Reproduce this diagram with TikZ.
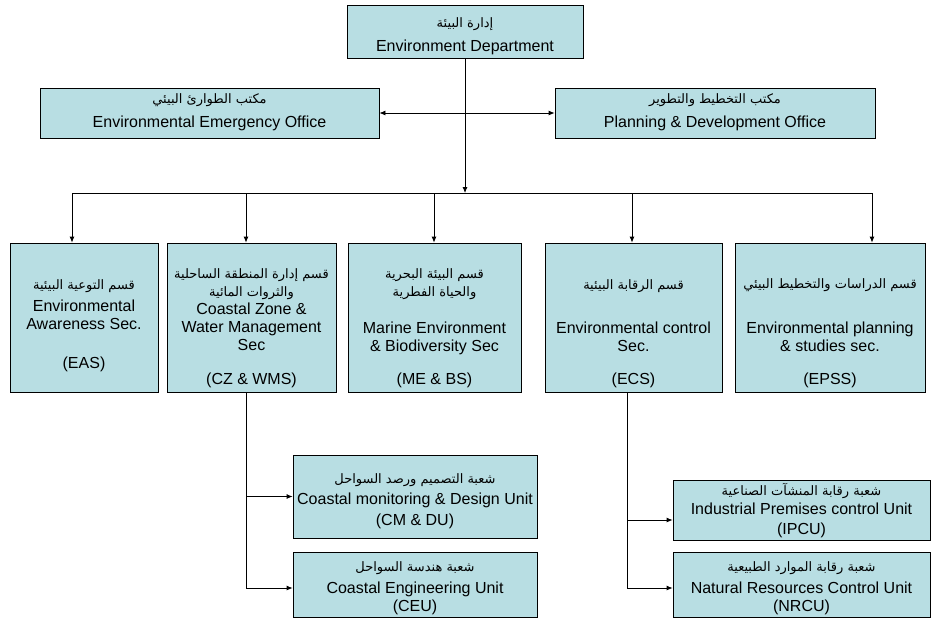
\documentclass[tikz,border=0pt]{standalone}
\usepackage{fontspec}
\setmainfont{Liberation Sans}
\newfontfamily\arabicfont[Script=Arabic]{DejaVu Sans}
\TeXXeTstate=1
\usetikzlibrary{arrows.meta}
\definecolor{boxfill}{RGB}{184,222,227}
\newcommand{\artxt}[1]{\beginR #1\endR}
\begin{document}
\begin{tikzpicture}[x=1pt,y=-1pt,
  box/.style={draw=black, line width=0.8pt, fill=boxfill, inner sep=0pt, rectangle},
  en/.style={font=\fontsize{16}{18}\selectfont, inner sep=0pt, anchor=base},
  ar/.style={font=\fontsize{13}{15}\arabicfont, inner sep=0pt, anchor=base},
  conn/.style={draw=black, line width=0.8pt},
  arr/.style={conn, -{Latex[length=6pt,width=5pt]}},
  darr/.style={conn, {Latex[length=6pt,width=5pt]}-{Latex[length=6pt,width=5pt]}}]
\fill[white] (0,0) rectangle (932,619);
\useasboundingbox (0,0) rectangle (932,619);

% boxes
\node[box, minimum width=236pt, minimum height=53pt] (env) at (465,31.5) {};
\node[box, minimum width=339pt, minimum height=50pt] (emerg) at (209.5,113) {};
\node[box, minimum width=320pt, minimum height=50pt] (plan) at (715,113) {};
\node[box, minimum width=148pt, minimum height=149pt] (eas) at (84,317.5) {};
\node[box, minimum width=169pt, minimum height=149pt] (cz) at (251.5,317.5) {};
\node[box, minimum width=173pt, minimum height=149pt] (me) at (434.5,317.5) {};
\node[box, minimum width=177pt, minimum height=149pt] (ecs) at (633.5,317.5) {};
\node[box, minimum width=190pt, minimum height=149pt] (epss) at (830,317.5) {};
\node[box, minimum width=244pt, minimum height=83pt] (cmdu) at (415,496.5) {};
\node[box, minimum width=244pt, minimum height=65pt] (ceu) at (415,584.5) {};
\node[box, minimum width=257pt, minimum height=60pt] (ipcu) at (801.5,510) {};
\node[box, minimum width=257pt, minimum height=65pt] (nrcu) at (801.5,584.5) {};

% texts
\node[ar] (envA) at (465,27) {\artxt{إدارة البيئة}};
\node[en] (envE) at (465,51) {Environment Department};

\node[ar] (emergA) at (209.5,103) {\artxt{مكتب الطوارئ البيئي}};
\node[en] (emergE) at (209.5,127) {Environmental Emergency Office};

\node[ar] (planA) at (715,103) {\artxt{مكتب التخطيط والتطوير}};
\node[en] (planE) at (715,127) {Planning \& Development Office};

\node[ar] (easA) at (84,289) {\artxt{قسم التوعية البيئية}};
\node[en] (easE1) at (84,311) {Environmental};
\node[en] (easE2) at (84,329) {Awareness Sec.};
\node[en] (easE3) at (84,368) {(EAS)};

\node[ar] (czA1) at (251.5,278) {\artxt{قسم إدارة المنطقة الساحلية}};
\node[ar] (czA2) at (251.5,296) {\artxt{والثروات المائية}};
\node[en] (czE1) at (251.5,314) {Coastal Zone \&};
\node[en] (czE2) at (251.5,332) {Water Management};
\node[en] (czE3) at (251.5,350) {Sec};
\node[en] (czE4) at (251.5,384) {(CZ \& WMS)};

\node[ar] (meA1) at (434.5,278) {\artxt{قسم البيئة البحرية}};
\node[ar] (meA2) at (434.5,296) {\artxt{والحياة الفطرية}};
\node[en] (meE1) at (434.5,333) {Marine Environment};
\node[en] (meE2) at (434.5,351) {\& Biodiversity Sec};
\node[en] (meE3) at (434.5,384) {(ME \& BS)};

\node[ar] (ecsA) at (633.5,289) {\artxt{قسم الرقابة البيئية}};
\node[en] (ecsE1) at (633.5,333) {Environmental control};
\node[en] (ecsE2) at (633.5,351) {Sec.};
\node[en] (ecsE3) at (633.5,384) {(ECS)};

\node[ar] (epssA) at (830,288) {\artxt{قسم الدراسات والتخطيط البيئي}};
\node[en] (epssE1) at (830,333) {Environmental planning};
\node[en] (epssE2) at (830,351) {\& studies sec.};
\node[en] (epssE3) at (830,384) {(EPSS)};

\node[ar] (cmduA) at (415,483) {\artxt{شعبة التصميم ورصد السواحل}};
\node[en] (cmduE1) at (415,504) {Coastal monitoring \& Design Unit};
\node[en] (cmduE2) at (415,525) {(CM \& DU)};

\node[ar] (ceuA) at (415,571) {\artxt{شعبة هندسة السواحل}};
\node[en] (ceuE1) at (415,593) {Coastal Engineering Unit};
\node[en] (ceuE2) at (415,611) {(CEU)};

\node[ar] (ipcuA) at (801.5,495) {\artxt{شعبة رقابة المنشآت الصناعية}};
\node[en] (ipcuE1) at (801.5,514) {Industrial Premises control Unit};
\node[en] (ipcuE2) at (801.5,534) {(IPCU)};

\node[ar] (nrcuA) at (801.5,571) {\artxt{شعبة رقابة الموارد الطبيعية}};
\node[en] (nrcuE1) at (801.5,593) {Natural Resources Control Unit};
\node[en] (nrcuE2) at (801.5,611) {(NRCU)};

% connectors
\coordinate (hub) at (465,193);
\coordinate (barL) at (72,193);
\coordinate (barR) at (872,193);
\coordinate (d2) at (246,193);
\coordinate (d3) at (434,193);
\coordinate (d4) at (632,193);
\draw[darr] (emerg.east) -- (plan.west);
\draw[arr] (env.south) -- (hub);
\draw[conn] (barL) -- (barR);
\draw[arr] (barL) -- (barL |- eas.north);
\draw[arr] (d2) -- (d2 |- cz.north);
\draw[arr] (d3) -- (d3 |- me.north);
\draw[arr] (d4) -- (d4 |- ecs.north);
\draw[arr] (barR) -- (barR |- epss.north);

\coordinate (czdrop) at (246,392);
\coordinate (czlow) at (246,588);
\draw[arr] (czdrop) |- (czlow -| ceu.west);
\draw[arr] (czdrop |- cmdu.west) -- (cmdu.west);

\coordinate (ecsdrop) at (627,392);
\coordinate (ecslow) at (627,588);
\coordinate (ecsmid) at (627,520);
\draw[arr] (ecsdrop) |- (ecslow -| nrcu.west);
\draw[arr] (ecsmid) -- (ecsmid -| ipcu.west);
\end{tikzpicture}
\end{document}
